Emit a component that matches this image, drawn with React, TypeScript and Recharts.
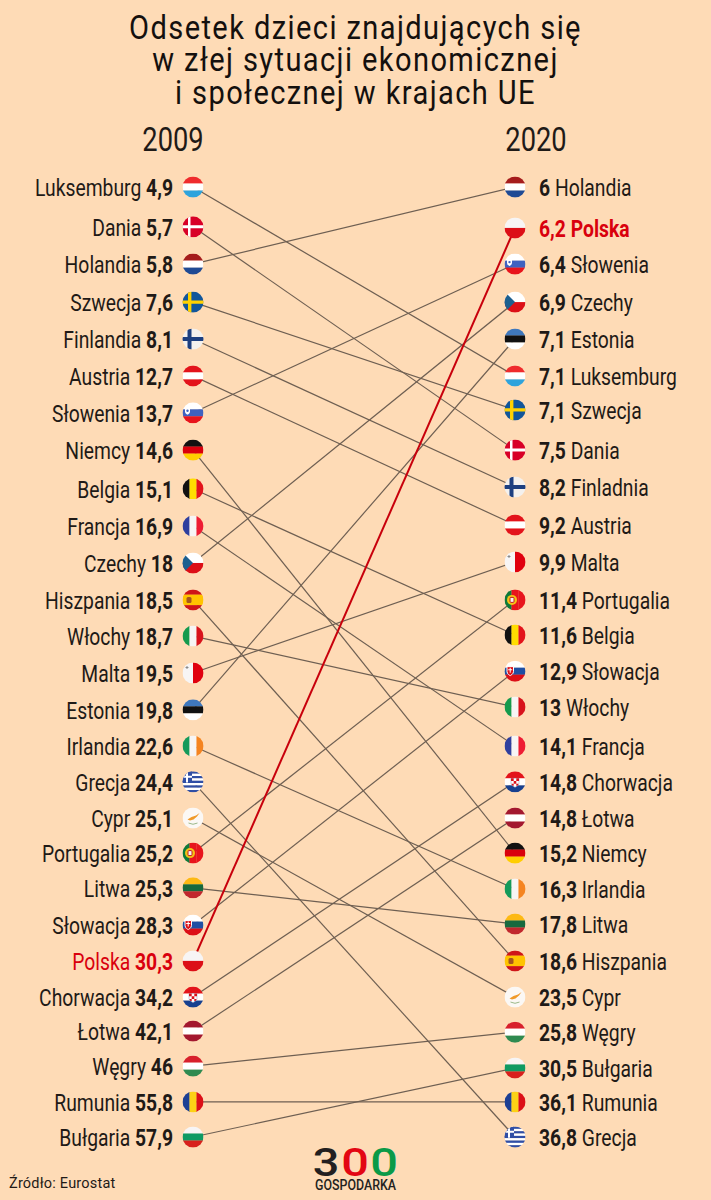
import { LineChart, Line, XAxis, YAxis } from 'recharts';

const BG = '#fedbb6';
const RED = '#d9000d';
const INK = '#1f1a17';

const YEARS = ['2009', '2020'];

// Left column, top to bottom
const countries2009 = ['Luksemburg', 'Dania', 'Holandia', 'Szwecja', 'Finlandia', 'Austria', 'Słowenia', 'Niemcy', 'Belgia', 'Francja', 'Czechy', 'Hiszpania', 'Włochy', 'Malta', 'Estonia', 'Irlandia', 'Grecja', 'Cypr', 'Portugalia', 'Litwa', 'Słowacja', 'Polska', 'Chorwacja', 'Łotwa', 'Węgry', 'Rumunia', 'Bułgaria'];
const values2009 = ['4,9', '5,7', '5,8', '7,6', '8,1', '12,7', '13,7', '14,6', '15,1', '16,9', '18', '18,5', '18,7', '19,5', '19,8', '22,6', '24,4', '25,1', '25,2', '25,3', '28,3', '30,3', '34,2', '42,1', '46', '55,8', '57,9'];
// Row of each entry; the source spaces its rows unevenly
const rows2009 = [1, 2.09, 3.11, 4.15, 5.16, 6.17, 7.18, 8.2, 9.26, 10.28, 11.29, 12.3, 13.29, 14.3, 15.31, 16.3, 17.28, 18.27, 19.23, 20.18, 21.2, 22.18, 23.17, 24.1, 25.06, 26.04, 27];

// Right column, top to bottom
const countries2020 = ['Holandia', 'Polska', 'Słowenia', 'Czechy', 'Estonia', 'Luksemburg', 'Szwecja', 'Dania', 'Finlandia', 'Austria', 'Malta', 'Portugalia', 'Belgia', 'Słowacja', 'Włochy', 'Francja', 'Chorwacja', 'Łotwa', 'Niemcy', 'Irlandia', 'Litwa', 'Hiszpania', 'Cypr', 'Węgry', 'Bułgaria', 'Rumunia', 'Grecja'];
const values2020 = ['6', '6,2', '6,4', '6,9', '7,1', '7,1', '7,1', '7,5', '8,2', '9,2', '9,9', '11,4', '11,6', '12,9', '13', '14,1', '14,8', '14,8', '15,2', '16,3', '17,8', '18,6', '23,5', '25,8', '30,5', '36,1', '36,8'];
const rows2020 = [1, 2.12, 3.11, 4.15, 5.16, 6.17, 7.1, 8.2, 9.21, 10.25, 11.26, 12.3, 13.26, 14.25, 15.23, 16.3, 17.28, 18.27, 19.23, 20.21, 21.17, 22.18, 23.17, 24.13, 25.11, 26.04, 27];

// The source prints this one misspelled in the 2020 column
const labels2020: Record<string, string> = { Finlandia: 'Finladnia' };

const chartData = YEARS.map((year, i) => {
  const row: Record<string, string | number> = { year };
  countries2009.forEach((c, k) => {
    row[c] = i === 0 ? rows2009[k] : rows2020[countries2020.indexOf(c)];
  });
  return row;
});

const R = 10.5;

// h = stripes top to bottom, v = stripes left to right
const STRIPES: Record<string, { dir: 'h' | 'v'; colors: string[] }> = {
  Luksemburg: { dir: 'h', colors: ['#ef2b2d', '#ffffff', '#2ea3dc'] },
  Dania: { dir: 'h', colors: ['#d80027'] },
  Holandia: { dir: 'h', colors: ['#a51c1c', '#ffffff', '#1f4a94'] },
  Szwecja: { dir: 'h', colors: ['#11569b'] },
  Finlandia: { dir: 'h', colors: ['#f4f1ee'] },
  Austria: { dir: 'h', colors: ['#e3131b', '#ffffff', '#e3131b'] },
  Słowenia: { dir: 'h', colors: ['#ffffff', '#3f62c0', '#e8141c'] },
  Niemcy: { dir: 'h', colors: ['#111111', '#d9000d', '#ffce00'] },
  Belgia: { dir: 'v', colors: ['#111111', '#ffdd00', '#e3131b'] },
  Francja: { dir: 'v', colors: ['#2f3f9e', '#f7f5f5', '#ee1c34'] },
  Czechy: { dir: 'h', colors: ['#ffffff', '#dc0f17'] },
  Hiszpania: { dir: 'h', colors: ['#cf1518', '#ffc400', '#ffc400', '#cf1518'] },
  Włochy: { dir: 'v', colors: ['#159a4d', '#f7f5f5', '#d8121c'] },
  Malta: { dir: 'v', colors: ['#f7f5f5', '#e0000f'] },
  Estonia: { dir: 'h', colors: ['#3f78bd', '#111111', '#ffffff'] },
  Irlandia: { dir: 'v', colors: ['#159a5a', '#f7f5f5', '#f58420'] },
  Grecja: { dir: 'h', colors: ['#2f4ea5', '#ffffff', '#2f4ea5', '#ffffff', '#2f4ea5', '#ffffff', '#2f4ea5', '#ffffff', '#2f4ea5'] },
  Cypr: { dir: 'h', colors: ['#fbf8f5'] },
  Portugalia: { dir: 'v', colors: ['#0f7a3a', '#e8141c', '#e8141c'] },
  Litwa: { dir: 'h', colors: ['#fdb913', '#17693e', '#c1272d'] },
  Słowacja: { dir: 'h', colors: ['#ffffff', '#1e4fa3', '#dc0f17'] },
  Polska: { dir: 'h', colors: ['#f7f5f5', '#dc0f17'] },
  Chorwacja: { dir: 'h', colors: ['#e3131b', '#ffffff', '#17408f'] },
  Łotwa: { dir: 'h', colors: ['#a3182f', '#ffffff', '#a3182f'] },
  Węgry: { dir: 'h', colors: ['#d8202c', '#ffffff', '#2f8a50'] },
  Rumunia: { dir: 'v', colors: ['#1c3f94', '#fcd116', '#dc0f17'] },
  Bułgaria: { dir: 'h', colors: ['#f7f5f5', '#0f9a63', '#d8201c'] },
};

function FlagDetail({ name }: { name: string }) {
  switch (name) {
    case 'Dania':
      return <path d="M-11 -1.5H-5V-11H-2.5V-1.5H11V1.5H-2.5V11H-5V1.5H-11Z" fill="#fff" />;
    case 'Szwecja':
      return <path d="M-11 -1.7H-5V-11H-1.6V-1.7H11V1.7H-1.6V11H-5V1.7H-11Z" fill="#ffd100" />;
    case 'Finlandia':
      return <path d="M-11 -2H-5.5V-11H-1.5V-2H11V2H-1.5V11H-5.5V2H-11Z" fill="#1d3f80" />;
    case 'Słowenia':
      return (
        <g>
          <path d="M-8 -5H-3V-1C-3 1 -5.5 2 -5.5 2C-5.5 2 -8 1 -8 -1Z" fill="#fff" />
          <circle cx={-5.5} cy={-2} r={1.2} fill="#3f62c0" />
        </g>
      );
    case 'Czechy':
      return <path d="M-11 -11L0 0L-11 11Z" fill="#1c5f8f" />;
    case 'Hiszpania':
      return <rect x={-6.5} y={-3} width={5} height={6} rx={1.5} fill="#a5561f" />;
    case 'Malta':
      return <path d="M-6.5 -7H-5.5V-6H-4.5V-5H-5.5V-4H-6.5V-5H-7.5V-6H-6.5Z" fill="#8a8a8a" />;
    case 'Grecja':
      return (
        <g>
          <rect x={-11} y={-11} width={10} height={11.7} fill="#2f4ea5" />
          <path d="M-7 -11H-5V-6.2H-1V-4.2H-5V0.7H-7V-4.2H-11V-6.2H-7Z" fill="#fff" />
        </g>
      );
    case 'Cypr':
      return (
        <g>
          <path d="M-5.5 1.5L-1.5 -1L3 -2.5L6.5 -5L4 -1.5L0.5 1.5L-3 2.5Z" fill="#f09a2a" />
          <path d="M-4.5 5Q0 7.5 4.5 5" fill="none" stroke="#9bb98a" strokeWidth={1} />
        </g>
      );
    case 'Portugalia':
      return (
        <g>
          <circle cx={-3} cy={0} r={5} fill="#f3c316" />
          <rect x={-5} y={-2.5} width={4} height={5} rx={1} fill="#f7f5f5" stroke="#c8161d" strokeWidth={1} />
        </g>
      );
    case 'Słowacja':
      return (
        <g>
          <path d="M-8 -4.5H-1.5V0.5C-1.5 3 -4.8 4.5 -4.8 4.5C-4.8 4.5 -8 3 -8 0.5Z" fill="#dc0f17" stroke="#fff" strokeWidth={1} />
          <path d="M-5.3 -3.5H-4.3V-2H-2.8V-1H-4.3V1.5H-5.3V-1H-6.8V-2H-5.3Z" fill="#fff" />
        </g>
      );
    case 'Chorwacja':
      return (
        <g>
          <path d="M-4 -3.5H4V1.5C4 3.8 0 5.5 0 5.5C0 5.5 -4 3.8 -4 1.5Z" fill="#fff" stroke="#8a94b8" strokeWidth={0.5} />
          <path d="M-4 -3.5H-1.3V-0.8H-4ZM1.3 -3.5H4V-0.8H1.3ZM-1.3 -0.8H1.3V1.9H-1.3ZM-3.6 1.9H-1.3V4H-2.6ZM1.3 1.9H3.6L2.6 4H1.3Z" fill="#d8121c" />
        </g>
      );
    default:
      return null;
  }
}

function Flag({ name, cx, cy, clipId }: { name: string; cx: number; cy: number; clipId: string }) {
  const { dir, colors } = STRIPES[name];
  const size = (2 * R) / colors.length;
  return (
    <g transform={`translate(${cx},${cy})`}>
      <clipPath id={clipId}>
        <circle r={R} />
      </clipPath>
      <g clipPath={`url(#${clipId})`}>
        {colors.map((c, i) =>
          dir === 'h' ? (
            <rect key={i} x={-R} y={-R + i * size} width={2 * R} height={size + 0.2} fill={c} />
          ) : (
            <rect key={i} x={-R + i * size} y={-R} width={size + 0.2} height={2 * R} fill={c} />
          )
        )}
        <FlagDetail name={name} />
      </g>
    </g>
  );
}

// Roboto squeezed to stand in for the condensed face of the original
const SQUEEZE = 0.84;

function CountryDot(props: any) {
  const { cx, cy, index, name } = props;
  const left = index === 0;
  const isPoland = name === 'Polska';
  const value = left
    ? values2009[countries2009.indexOf(name)]
    : values2020[countries2020.indexOf(name)];
  const label = left ? name : labels2020[name] ?? name;
  const fill = isPoland ? RED : INK;
  return (
    <g key={`${name}-${index}`}>
      <Flag name={name} cx={cx} cy={cy} clipId={`flag-${index}-${countries2009.indexOf(name)}`} />
      <text
        transform={`translate(${left ? cx - 20 : cx + 24},${cy + 9}) scale(${SQUEEZE},1)`}
        textAnchor={left ? 'end' : 'start'}
        fontFamily="Roboto"
        fontSize={23}
        fill={fill}
      >
        {left ? (
          <>
            <tspan>{label} </tspan>
            <tspan fontWeight={700}>{value}</tspan>
          </>
        ) : (
          <>
            <tspan fontWeight={700}>{value} </tspan>
            <tspan fontWeight={isPoland ? 700 : 400}>{label}</tspan>
          </>
        )}
      </text>
    </g>
  );
}

function YearTick(props: any) {
  const { x, payload, index } = props;
  return (
    <text
      transform={`translate(${x + (index === 0 ? -20 : 21)},151) scale(${SQUEEZE},1)`}
      textAnchor="middle"
      fontFamily="Roboto"
      fontSize={32.5}
      fill={INK}
    >
      {payload.value}
    </text>
  );
}

export default function App() {
  return (
    <div style={{ position: 'absolute', left: 0, top: 0, width: 711, height: 1200, background: BG, overflow: 'hidden' }}>
      <div style={{ position: 'absolute', left: 0, top: 12, width: 711, textAlign: 'center', fontFamily: 'Roboto', fontSize: 33, lineHeight: '32.3px', color: '#14100e', letterSpacing: 1.6, transform: 'scaleX(0.88)' }}>
        Odsetek dzieci znajdujących się
        <br />
        w złej sytuacji ekonomicznej
        <br />
        i społecznej w krajach UE
      </div>
      <LineChart
        width={711}
        height={1200}
        data={chartData}
        margin={{ top: 100, right: 196, bottom: 63, left: 193 }}
        style={{ position: 'absolute', left: 0, top: 0 }}
      >
        <XAxis dataKey="year" orientation="top" height={87} axisLine={false} tickLine={false} tick={YearTick} interval={0} />
        <YAxis hide domain={[1, 27]} reversed />
        {countries2009.map((c) => (
          <Line
            key={`line-${c}`}
            dataKey={c}
            stroke={c === 'Polska' ? '#c8000c' : '#6e5f52'}
            strokeWidth={c === 'Polska' ? 2 : 1.2}
            dot={false}
            activeDot={false}
            isAnimationActive={false}
          />
        ))}
        {countries2009.map((c) => (
          <Line
            key={`flag-${c}`}
            dataKey={c}
            stroke="none"
            dot={(p: any) => <CountryDot {...p} key={`${c}-${p.index}`} name={c} />}
            activeDot={false}
            isAnimationActive={false}
          />
        ))}
      </LineChart>
      <div style={{ position: 'absolute', left: 9, top: 1175, fontFamily: 'Roboto', fontSize: 14.5, letterSpacing: 0.2, color: INK }}>
        Źródło: Eurostat
      </div>
      <svg width={100} height={60} style={{ position: 'absolute', left: 307, top: 1135 }}>
        <text transform="translate(19,41) scale(1.2,1)" textAnchor="middle" fontFamily="Roboto" fontWeight={500} fontSize={39} fill="#231f20">3</text>
        <text transform="translate(48,41) scale(1.25,1)" textAnchor="middle" fontFamily="Roboto" fontWeight={500} fontSize={39} fill="#e30613">0</text>
        <text transform="translate(77,41) scale(1.25,1)" textAnchor="middle" fontFamily="Roboto" fontWeight={500} fontSize={39} fill="#0a9a48">0</text>
        <text x={8} y={55} fontFamily="Roboto" fontWeight={500} fontSize={14} fill="#231f20" textLength={81} lengthAdjust="spacingAndGlyphs">GOSPODARKA</text>
      </svg>
    </div>
  );
}
